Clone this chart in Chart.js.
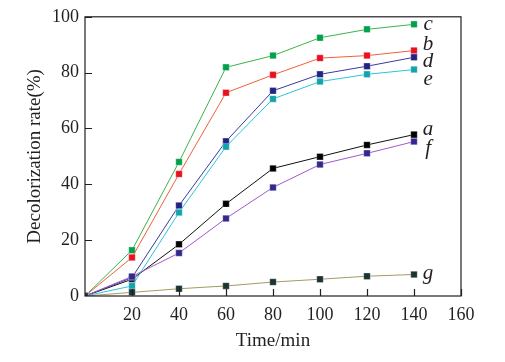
<!DOCTYPE html>
<html>
<head>
<meta charset="utf-8">
<script src="https://cdn.jsdelivr.net/npm/chart.js@4/dist/chart.umd.min.js"></script>
<style>
  html, body { margin: 0; padding: 0; background: #fff; }
</style>
</head>
<body>
<canvas id="chart" width="505" height="362"></canvas>
<script>
// time points (min)
const times = [0, 20, 40, 60, 80, 100, 120, 140];

// decolorization rate (%) per curve
const seriesA = [0, 6.0, 18.5, 33.0, 45.7, 49.9, 54.1, 57.8];
const seriesB = [0, 13.8, 43.7, 72.8, 79.2, 85.2, 86.1, 87.9];
const seriesC = [0, 16.4, 48.0, 81.9, 86.1, 92.5, 95.5, 97.3];
const seriesD = [0, 6.6, 32.4, 55.4, 73.5, 79.4, 82.3, 85.5];
const seriesE = [0, 3.6, 29.9, 53.5, 70.6, 76.8, 79.4, 81.1];
const seriesF = [0, 7.0, 15.4, 27.8, 38.9, 47.1, 51.1, 55.3];
const seriesG = [0, 1.3, 2.6, 3.6, 5.0, 6.0, 7.1, 7.7];

const curveNames = ['g', 'f', 'e', 'd', 'a', 'b', 'c'];
const xTicks = [20, 40, 60, 80, 100, 120, 140, 160];
const yTicks = [0, 20, 40, 60, 80, 100];

const serif = '"Liberation Serif", "DejaVu Serif", serif';
const ink = '#231f20';

function mk(name, values, line, marker) {
    return {
        label: name,
        data: times.map((t, i) => ({ x: t, y: values[i] })),
        borderColor: line,
        borderWidth: 1,
        backgroundColor: marker,
        pointStyle: 'rect',
        pointRadius: 4.6,
        pointHoverRadius: 4.6,
        pointBackgroundColor: marker,
        pointBorderColor: 'rgba(255,255,255,0.5)',
        pointBorderWidth: 0.6,
        tension: 0
    };
}

const datasets = [
    mk('g', seriesG, '#a39c63', '#1c3332'),
    mk('f', seriesF, '#a558c8', '#33288e'),
    mk('e', seriesE, '#2ec4d6', '#12a3ad'),
    mk('d', seriesD, '#3b3b9e', '#232385'),
    mk('a', seriesA, '#111111', '#000000'),
    mk('b', seriesB, '#f0603a', '#e8121e'),
    mk('c', seriesC, '#3cb44a', '#00a04c')
];

// where the curve letters sit (x in min, y in %)
const labelSpots = {
    c: [146, 97.2], b: [146, 90.0], d: [146, 84.0], e: [146, 77.6],
    a: [146, 59.8], f: [146, 52.7], g: [146, 8.2]
};

const frame = {
    id: 'frame',
    afterDatasetsDraw(chart) {
        const { ctx, chartArea: a, scales: { x, y } } = chart;
        ctx.save();
        ctx.strokeStyle = ink;
        ctx.lineWidth = 1.2;
        ctx.strokeRect(a.left, a.top, a.right - a.left, a.bottom - a.top);
        ctx.beginPath();
        xTicks.forEach(t => {
            const px = Math.round(x.getPixelForValue(t)) + 0.5;
            ctx.moveTo(px, a.bottom);
            ctx.lineTo(px, a.bottom - 7);
        });
        yTicks.slice(1).forEach(t => {
            const py = Math.round(y.getPixelForValue(t)) + 0.5;
            ctx.moveTo(a.left, py);
            ctx.lineTo(a.left + 7, py);
        });
        ctx.stroke();

        ctx.fillStyle = ink;
        ctx.font = 'italic 21px ' + serif;
        ctx.textAlign = 'center';
        ctx.textBaseline = 'middle';
        curveNames.forEach(n => {
            const [lx, ly] = labelSpots[n];
            ctx.fillText(n, x.getPixelForValue(lx), y.getPixelForValue(ly));
        });
        ctx.restore();
    }
};

new Chart(document.getElementById('chart'), {
    type: 'line',
    data: { datasets: datasets },
    options: {
        responsive: false,
        animation: false,
        layout: { padding: { left: 0, top: 15, right: 44, bottom: 0 } },
        plugins: {
            legend: { display: false },
            tooltip: { enabled: false }
        },
        scales: {
            x: {
                type: 'linear',
                min: 0,
                max: 160,
                afterFit(s) { s.height = 66; },
                afterBuildTicks(s) { s.ticks = xTicks.map(v => ({ value: v })); },
                grid: { display: false, drawTicks: false },
                border: { display: false },
                ticks: {
                    color: ink,
                    padding: 8,
                    maxRotation: 0,
                    font: { family: serif, size: 18 }
                },
                title: {
                    display: true,
                    text: 'Time/min',
                    color: ink,
                    padding: { top: 0, bottom: 10 },
                    font: { family: serif, size: 19 }
                }
            },
            y: {
                min: 0,
                max: 100,
                afterFit(s) { s.width = 85; },
                afterBuildTicks(s) { s.ticks = yTicks.map(v => ({ value: v })); },
                grid: { display: false, drawTicks: false },
                border: { display: false },
                ticks: {
                    color: ink,
                    padding: 6,
                    font: { family: serif, size: 18 }
                },
                title: {
                    display: true,
                    text: 'Decolorization rate(%)',
                    color: ink,
                    padding: { top: 24, bottom: 0 },
                    font: { family: serif, size: 19 }
                }
            }
        }
    },
    plugins: [frame]
});
</script>
</body>
</html>
